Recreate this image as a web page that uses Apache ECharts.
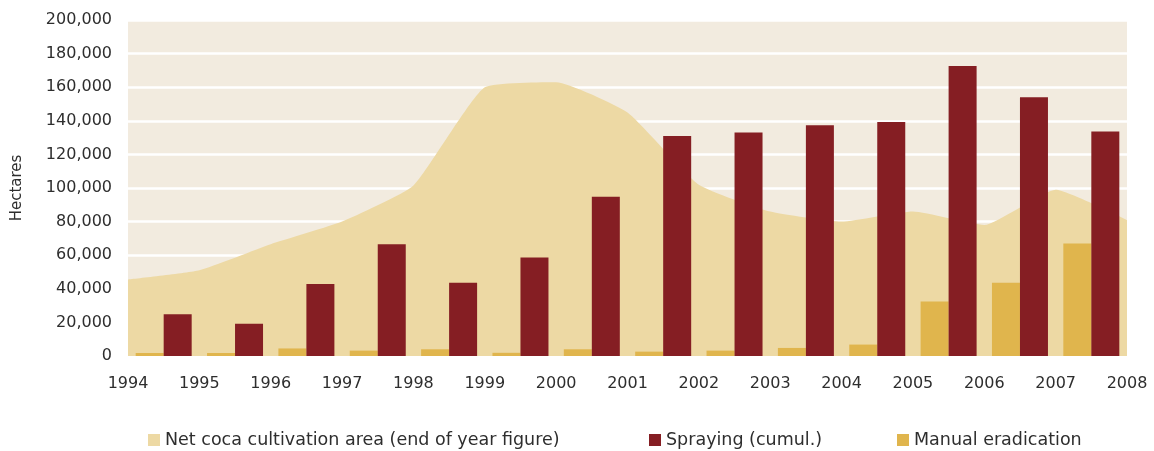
<!DOCTYPE html>
<html>
<head>
<meta charset="utf-8">
<script src="https://cdn.jsdelivr.net/npm/echarts@6/dist/echarts.min.js"></script>
<style>
html,body{margin:0;padding:0;background:#fff;}
#chart{width:1154px;height:451px;}
</style>
</head>
<body>
<div id="chart"></div>
<script>
// Year boundaries for the area series (x-axis tick labels)
var areaYears = [1994,1995,1996,1997,1998,1999,2000,2001,2002,2003,2004,2005,2006,2007,2008];
// Net coca cultivation area (end of year figure), hectares
var netCoca = [45500,51000,66500,80000,101500,160000,163000,145000,102000,86000,80000,86000,78000,99000,81000];
// Bar categories (one per interval between year ticks)
var barCategories = ['1994','1995','1996','1997','1998','1999','2000','2001','2002','2003','2004','2005','2006','2007'];
// Spraying (cumul.), hectares
var spraying = [24800,19200,42900,66500,43600,58700,94800,131000,133000,137300,139300,172600,154000,133700];
// Manual eradication, hectares
var manual = [1800,1800,4500,3200,4000,1900,4000,2600,3200,4800,6800,32400,43600,66900];

var FONT = '"DejaVu Sans", sans-serif';
var TXT = '#2e2e2e';

var chart = echarts.init(document.getElementById('chart'), null, {renderer:'canvas'});
var areaData = areaYears.map(function(y,i){ return [y, netCoca[i]]; });

var legendText = {fontFamily:FONT, fontSize:17.5, color:TXT};
chart.setOption({
  animation: false,
  backgroundColor: '#ffffff',
  textStyle: {fontFamily: FONT},
  grid: {left:128, right:27, top:20, bottom:95, show:true, backgroundColor:'#f2ebdf', borderWidth:0,
         containLabel:false, outerBoundsMode:'none'},
  legend: [
    {data:[{name:'Net coca cultivation area (end of year figure)', icon:'rect'}], left:143, top:426, itemWidth:12, itemHeight:12, textStyle:legendText},
    {data:[{name:'Spraying (cumul.)', icon:'rect'}], left:644, top:426, itemWidth:12, itemHeight:12, textStyle:legendText},
    {data:[{name:'Manual eradication', icon:'rect'}], left:892, top:426, itemWidth:12, itemHeight:12, textStyle:legendText}
  ],
  xAxis: [
    {type:'category', data:barCategories, boundaryGap:true, show:false},
    {type:'value', min:1994, max:2008, interval:1, position:'bottom',
     axisLine:{show:false}, axisTick:{show:false}, splitLine:{show:false},
     axisLabel:{margin:20, fontSize:16, color:TXT, fontFamily:FONT, formatter:function(v){return String(v);}}}
  ],
  yAxis: {
    type:'value', min:0, max:200000, interval:20000,
    name:'Hectares', nameLocation:'middle', nameGap:103, nameRotate:90,
    nameTextStyle:{fontSize:15, color:TXT, fontFamily:FONT},
    axisLine:{show:false}, axisTick:{show:false},
    splitLine:{show:true, lineStyle:{color:'#ffffff', width:2.5}},
    axisLabel:{margin:16, fontSize:16, color:TXT, fontFamily:FONT,
      formatter:function(v){return v.toLocaleString('en-US');}}
  },
  series: [
    {name:'Net coca cultivation area (end of year figure)', type:'line', xAxisIndex:1, data:areaData,
     smooth:0.15, symbol:'none', lineStyle:{width:0, color:'#edd9a4'}, itemStyle:{color:'#edd9a4'},
     areaStyle:{color:'#edd9a4', opacity:1}, z:2},
    {name:'Manual eradication', type:'bar', xAxisIndex:0, data:manual, barWidth:28, barGap:'0%',
     itemStyle:{color:'#e0b54d'}, z:3},
    {name:'Spraying (cumul.)', type:'bar', xAxisIndex:0, data:spraying, barWidth:28, barGap:'0%',
     itemStyle:{color:'#851e23'}, z:3}
  ]
});
</script>
</body>
</html>
